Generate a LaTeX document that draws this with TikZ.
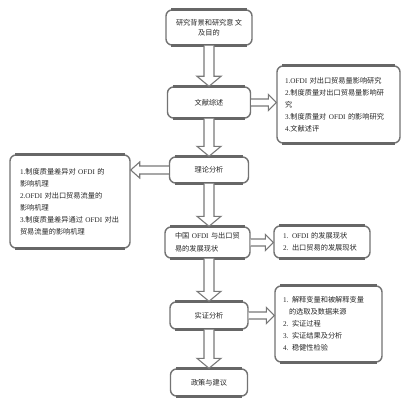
\documentclass[tikz,border=0pt]{standalone}
\usepackage{fontspec}
\newfontfamily\cjk{Noto Sans CJK SC}
\newfontfamily\lat{Liberation Serif}
\usetikzlibrary{calc}
\newcommand\OF{{\lat OFDI}}
\newcommand\barrow[5]{%
  \coordinate (bas) at (#1);
  \coordinate (bae) at (#2);
  \coordinate (bah) at ($(bae)!#5!(bas)$);
  \draw[blockarr] ($(bas)!#3!90:(bae)$) -- ($(bah)!#3!-90:(bas)$) -- ($(bah)!#4!-90:(bas)$) -- (bae)
    -- ($(bah)!#4!90:(bas)$) -- ($(bah)!#3!90:(bas)$) -- ($(bas)!#3!-90:(bae)$);
}
\tikzset{
  box/.style={draw=boxgray, line width=1.4pt, rounded corners=6pt, fill=white,
    font=\fontsize{7.2}{12}\cjk, text=black!85, inner ysep=2pt},
  blockarr/.style={draw=arrgray, line width=1.1pt, fill=white, line join=miter},
  edge/.style={draw=boxgray!90!black, line width=2.6pt},
}
\definecolor{boxgray}{RGB}{115,115,115}
\definecolor{arrgray}{RGB}{120,120,120}
\newcommand\thick[1]{%
  \draw[edge] ($(#1.north west)+(6pt,0)$) -- ($(#1.north east)+(-6pt,0)$);
  \draw[edge] ($(#1.south west)+(6pt,0)$) -- ($(#1.south east)+(-6pt,0)$);
}
\begin{document}
\begin{tikzpicture}[x=1pt,y=-1pt]
\useasboundingbox (0,0) rectangle (412,401);
\fill[white] (0,0) rectangle (412,401);
% main column
\node[box, minimum width=86pt, minimum height=35pt, align=center, font=\fontsize{7.2}{10.5}\cjk] (b1) at (209,27.5) {研究背景和研究意\,文\\及目的};
\node[box, minimum width=83pt, minimum height=31pt] (b2) at (209,102.5) {文献综述};
\node[box, minimum width=79pt, minimum height=26pt] (b4) at (209,170) {理论分析};
\node[box, minimum width=85pt, minimum height=31pt, text width=65pt, inner xsep=10pt, align=left, font=\fontsize{7.2}{13}\cjk] (b6) at (207.5,242.5) {中国 \OF{} 与出口贸\\易的发展现状};
\node[box, minimum width=78pt, minimum height=27pt] (b8) at (209,315.5) {实证分析};
\node[box, minimum width=77pt, minimum height=27pt] (b10) at (209,382.5) {政策与建议};
% side boxes
\node[box, minimum height=77pt, text width=107pt, inner xsep=8pt, align=left] (b3) at (338.5,104.5)
 {{\lat 1.OFDI} 对出口贸易量影响研究\\{\lat 2.}制度质量对出口贸易量影响研\\究\\{\lat 3.}制度质量对 \OF{} 的影响研究\\{\lat 4.}文献述评};
\node[box, minimum height=93pt, text width=100pt, inner xsep=10pt, align=left] (b5) at (70,201.5)
 {{\lat 1.}制度质量差异对 \OF{} 的\\影响机理\\{\lat 2.OFDI} 对出口贸易流量的\\影响机理\\{\lat 3.}制度质量差异通过 \OF{} 对出\\贸易流量的影响机理};
\node[box, minimum height=32pt, text width=78pt, inner xsep=9pt, align=left, font=\fontsize{7.2}{11.5}\cjk] (b7) at (322,242)
 {{\lat 1.} \OF{} 的发展现状\\{\lat 2.} 出口贸易的发展现状};
\node[box, minimum height=76pt, text width=91pt, inner xsep=8pt, align=left] (b9) at (328.5,324)
 {{\lat 1.} 解释变量和被解释变量\\\hspace{6pt}的选取及数据来源\\{\lat 2.} 实证过程\\{\lat 3.} 实证结果及分析\\{\lat 4.} 稳健性检验};
\foreach \n in {b1,b2,b3,b4,b5,b6,b7,b8,b9,b10} {\thick{\n}}
% arrows down
\barrow{b1.south}{b1.south |- b2.north}{5pt}{12pt}{10pt}
\barrow{b2.south}{b2.south |- b4.north}{5pt}{12pt}{10pt}
\barrow{b4.south}{b4.south |- b6.north}{5pt}{12pt}{10pt}
\barrow{b8.south |- b6.south}{b8.south |- b8.north}{5pt}{12pt}{10pt}
\barrow{b8.south}{b8.south |- b10.north}{5pt}{12pt}{10pt}
% side arrows
\barrow{b2.east}{b2.east -| b3.west}{3.5pt}{8pt}{8pt}
\barrow{b4.west}{b4.west -| b5.east}{4pt}{8pt}{9pt}
\barrow{b6.east}{b6.east -| b7.west}{3.5pt}{8pt}{8pt}
\barrow{b8.east}{b8.east -| b9.west}{3.5pt}{8pt}{8pt}
\end{tikzpicture}
\end{document}
